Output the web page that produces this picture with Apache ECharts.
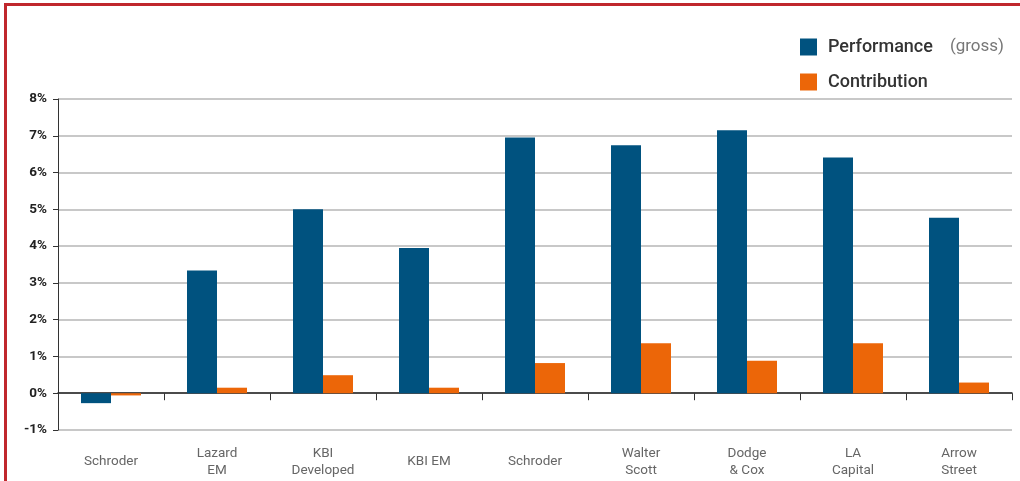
<!DOCTYPE html>
<html>
<head>
<meta charset="utf-8">
<script src="https://cdn.jsdelivr.net/npm/echarts@6/dist/echarts.min.js"></script>
<style>
html,body{margin:0;padding:0;background:#fff;}
#frame{position:absolute;left:4px;top:3px;width:1100px;height:600px;border-left:3px solid #c0282d;border-top:3px solid #c0282d;}
#chart{position:absolute;left:0;top:0;width:1020px;height:481px;}
</style>
</head>
<body>
<div id="frame"></div>
<div id="chart"></div>
<script>
const categories = ['Schroder', 'Lazard\nEM', 'KBI\nDeveloped', 'KBI EM', 'Schroder', 'Walter\nScott', 'Dodge\n& Cox', 'LA\nCapital', 'Arrow\nStreet'];
const performance = [-0.27, 3.34, 5.0, 3.95, 6.95, 6.74, 7.15, 6.41, 4.77];
const contribution = [-0.06, 0.15, 0.49, 0.15, 0.82, 1.36, 0.88, 1.36, 0.29];
const yMin = -1, yMax = 8, yStep = 1;

const chart = echarts.init(document.getElementById('chart'));
chart.setOption({
  animation: false,
  backgroundColor: 'transparent',
  textStyle: { fontFamily: 'Roboto, "DejaVu Sans", sans-serif' },
  legend: {
    left: 800, top: 38, orient: 'vertical', padding: 0,
    itemWidth: 17, itemHeight: 17, itemGap: 17,
    icon: 'rect',
    data: ['Performance', 'Contribution'],
    formatter: function (name) {
      return name === 'Performance' ? '{a|Performance}{b|(gross)}' : '{a|Contribution}';
    },
    textStyle: {
      rich: {
        a: { fontSize: 18, color: '#333', fontFamily: 'Roboto', fontWeight: 500, padding: [0, 0, 0, 6] },
        b: { fontSize: 17, color: '#777', fontFamily: 'Roboto', padding: [0, 0, 0, 17] }
      }
    }
  },
  grid: { left: 58, right: 8, top: 99, bottom: 51, containLabel: false },
  xAxis: [
    {
      type: 'category', data: categories,
      axisLine: { onZero: true, lineStyle: { color: '#222', width: 1.5 } },
      axisTick: { show: true, length: 7, lineStyle: { color: '#333' } },
      axisLabel: { show: false },
      splitLine: { show: false }
    },
    {
      type: 'category', data: categories, position: 'bottom',
      axisLine: { show: false, onZero: false },
      axisTick: { show: false },
      axisLabel: { show: true, margin: 32, verticalAlign: 'middle', lineHeight: 17, fontSize: 13.5, color: '#666', fontFamily: 'Roboto' }
    }
  ],
  yAxis: {
    type: 'value', min: yMin, max: yMax, interval: yStep,
    axisLine: { show: true, lineStyle: { color: '#333', width: 1 } },
    axisTick: { show: true, length: 5, lineStyle: { color: '#333' } },
    axisLabel: { formatter: '{value}%', fontSize: 13.5, color: '#222', fontWeight: 'bold', margin: 11, fontFamily: 'Roboto' },
    splitLine: { show: true, lineStyle: { color: '#c8c8c8', width: 2 } }
  },
  series: [
    { name: 'Performance', type: 'bar', data: performance, xAxisIndex: 0, barWidth: 30, barGap: '0%', itemStyle: { color: '#00527f' } },
    { name: 'Contribution', type: 'bar', data: contribution, xAxisIndex: 0, barWidth: 30, itemStyle: { color: '#ec6608' } }
  ]
});
</script>
</body>
</html>
